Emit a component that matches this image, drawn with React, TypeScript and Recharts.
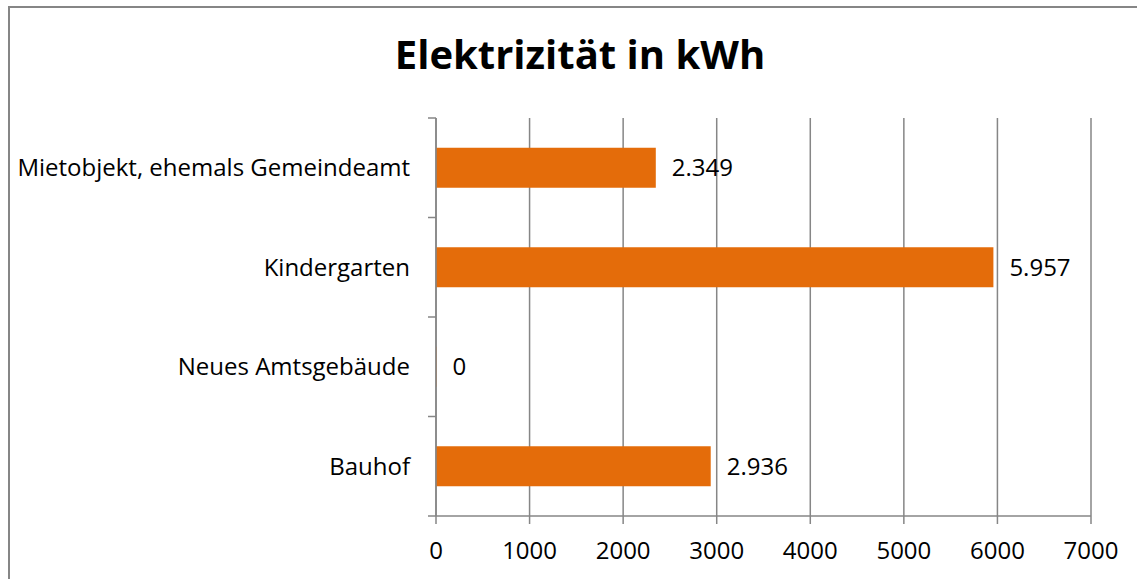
import React from "react";
import {
  Bar, BarChart, CartesianGrid, LabelList, XAxis, YAxis,
} from "recharts";

const categories = [
  "Mietobjekt, ehemals Gemeindeamt",
  "Kindergarten",
  "Neues Amtsgebäude",
  "Bauhof",
];
const kwh = [2349, 5957, 0, 2936];
const xTicks = [0, 1000, 2000, 3000, 4000, 5000, 6000, 7000];

const FONT = "'Open Sans', sans-serif";
const GRID = "#868686";
const LABEL_GAP = 26;
const TICK_LEN = 8;

const data = categories.map((name, i) => ({ name, value: kwh[i] }));

const fmt = (v: number) => v.toLocaleString("de-DE");

// label drawn by hand so the zero-width bar still gets its "0"
const ValueLabel = (p: any) => (
  <text
    x={Number(p.x) + Number(p.width) + 16}
    y={Number(p.y) + Number(p.height) / 2}
    dy="0.355em"
    fill="#000"
    fontSize={24}
    fontFamily={FONT}
  >
    {fmt(Number(p.value))}
  </text>
);

// category label + tick marks on the band edges (Excel style)
const CatTick = (p: any) => {
  const half = Number(p.payload?.offset ?? 0);
  const ax = Number(p.x) + LABEL_GAP;
  const last = p.index === p.visibleTicksCount - 1;
  return (
    <g>
      <line x1={ax - TICK_LEN} x2={ax} y1={p.y - half} y2={p.y - half} stroke={GRID} strokeWidth={1.5} />
      {last && (
        <line x1={ax - TICK_LEN} x2={ax} y1={p.y + half} y2={p.y + half} stroke={GRID} strokeWidth={1.5} />
      )}
      <text x={p.x} y={p.y} dy="0.355em" textAnchor="end" fill="#000" fontSize={24} fontFamily={FONT}>
        {p.payload?.value}
      </text>
    </g>
  );
};

export default function App() {
  return (
    <div style={{ position: "absolute", left: 0, top: 0, width: 1137, height: 579, background: "#fff", overflow: "hidden", fontFamily: FONT }}>
      <div style={{ position: "absolute", left: 8, top: 6, width: 1200, height: 600, borderTop: `2px solid ${GRID}`, borderLeft: `2px solid ${GRID}` }} />
      <div style={{ position: "absolute", left: 0, top: 27, width: 1160, textAlign: "center", fontSize: 40, fontWeight: 700, lineHeight: "54px", color: "#000" }}>
        Elektrizität in kWh
      </div>
      <div style={{ position: "absolute", left: 0, top: 0 }}>
        <BarChart
          width={1137}
          height={579}
          data={data}
          layout="vertical"
          barCategoryGap="30%"
          margin={{ top: 118, right: 46, bottom: 33, left: 0 }}
        >
          <CartesianGrid horizontal={false} stroke={GRID} strokeWidth={1.5} />
          <XAxis
            type="number"
            domain={[0, 7000]}
            ticks={xTicks}
            interval={0}
            height={30}
            tickSize={8}
            tickMargin={18}
            stroke={GRID}
            strokeWidth={1.5}
            tick={{ fill: "#000", fontSize: 24, fontFamily: FONT }}
          />
          <YAxis
            type="category"
            dataKey="name"
            width={436}
            interval={0}
            axisLine={{ stroke: GRID, strokeWidth: 1.5 }}
            tickLine={false}
            tickSize={0}
            tickMargin={LABEL_GAP}
            tick={CatTick}
          />
          <Bar dataKey="value" fill="#E46C0A" minPointSize={0.5} isAnimationActive={false}>
            <LabelList dataKey="value" content={ValueLabel} />
          </Bar>
        </BarChart>
      </div>
    </div>
  );
}
